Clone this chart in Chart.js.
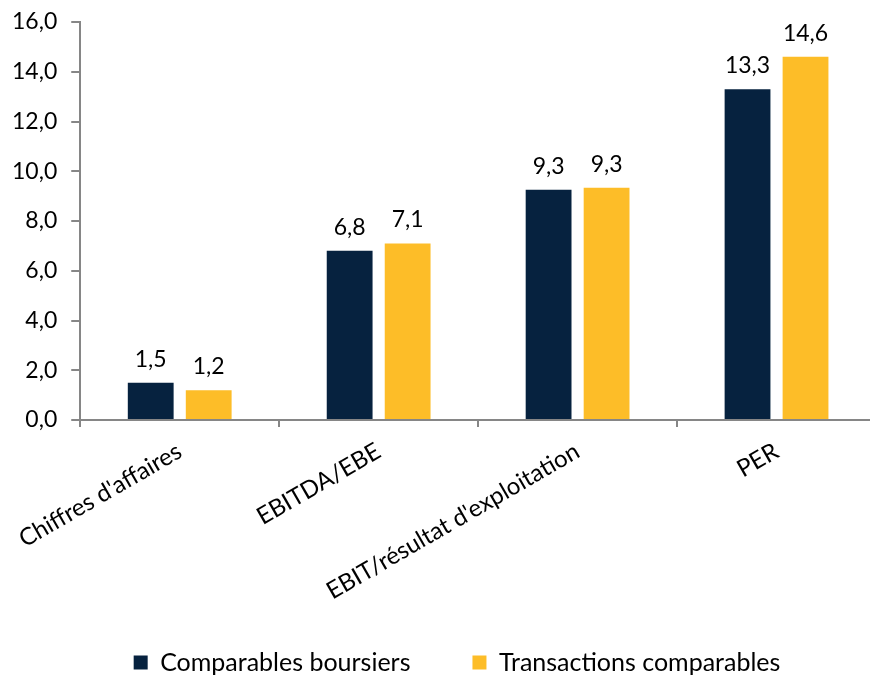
<!DOCTYPE html>
<html>
<head>
<meta charset="utf-8">
<script src="https://cdn.jsdelivr.net/npm/chart.js@4/dist/chart.umd.min.js"></script>
<style>
  html, body { margin: 0; padding: 0; background: #fff; overflow: hidden; }
  #wrap { width: 876px; height: 677px; }
</style>
</head>
<body>
<div id="wrap"><canvas id="multiplesChart" width="876" height="677"></canvas></div>
<script>
// categories et séries
const categories = ['Chiffres d\'affaires', 'EBITDA/EBE', 'EBIT/résultat d\'exploitation', 'PER'];
const boursiers = [1.5, 6.8, 9.26, 13.3];
const transactions = [1.2, 7.1, 9.34, 14.6];
const yTicks = [0, 2, 4, 6, 8, 10, 12, 14, 16];

const fmt = v => v.toFixed(1).replace('.', ',');
const FONT = 'Lato, "Open Sans", sans-serif';

// étiquettes de valeurs au-dessus des barres
const valueLabels = {
    id: 'valueLabels',
    afterDatasetsDraw(chart) {
        const ctx = chart.ctx;
        ctx.save();
        ctx.font = '23px ' + FONT;
        ctx.fillStyle = '#000';
        ctx.textAlign = 'center';
        ctx.textBaseline = 'alphabetic';
        chart.data.datasets.forEach((ds, i) => {
            chart.getDatasetMeta(i).data.forEach((bar, j) => {
                ctx.fillText(fmt(ds.data[j]), bar.x, bar.y - 16);
            });
        });
        ctx.restore();
    }
};

// la légende remonte un peu (grand espacement horizontal entre les entrées)
const legendShift = {
    id: 'legendShift',
    afterLayout(chart) {
        const lg = chart.legend;
        lg.top -= 22;
        lg.bottom -= 22;
        lg.left += 20;
        lg.right += 20;
    }
};

new Chart(document.getElementById('multiplesChart'), {
    type: 'bar',
    data: {
        labels: categories,
        datasets: [{
            label: 'Comparables boursiers',
            data: boursiers,
            backgroundColor: '#06223f',
            categoryPercentage: 0.583,
            barPercentage: 0.79
        }, {
            label: 'Transactions comparables',
            data: transactions,
            backgroundColor: '#fdbd28',
            categoryPercentage: 0.583,
            barPercentage: 0.79
        }]
    },
    options: {
        responsive: false,
        animation: false,
        layout: { padding: { top: 22, left: -2, right: 0, bottom: -30 } },
        plugins: {
            legend: {
                position: 'bottom',
                labels: {
                    boxWidth: 14,
                    boxHeight: 14,
                    padding: 62,
                    color: '#000',
                    font: { family: FONT, size: 25 }
                }
            },
            tooltip: { enabled: false }
        },
        scales: {
            y: {
                min: 0,
                max: 16,
                afterBuildTicks: axis => { axis.ticks = yTicks.map(v => ({ value: v })); },
                afterFit: axis => { axis.paddingTop = 0; },
                border: { color: '#868686', width: 2 },
                grid: { drawOnChartArea: false, tickLength: 9, color: '#868686', lineWidth: 2 },
                ticks: {
                    color: '#000',
                    padding: 14,
                    font: { family: FONT, size: 23 },
                    callback: v => fmt(v)
                }
            },
            x: {
                afterFit: axis => { axis.height = 190; },
                border: { color: '#868686', width: 2 },
                grid: { offset: true, drawOnChartArea: false, tickLength: 7, color: '#868686', lineWidth: 2 },
                ticks: {
                    color: '#000',
                    minRotation: 30,
                    maxRotation: 30,
                    padding: 10,
                    font: { family: FONT, size: 24 }
                }
            }
        }
    },
    plugins: [valueLabels, legendShift]
});
</script>
</body>
</html>
